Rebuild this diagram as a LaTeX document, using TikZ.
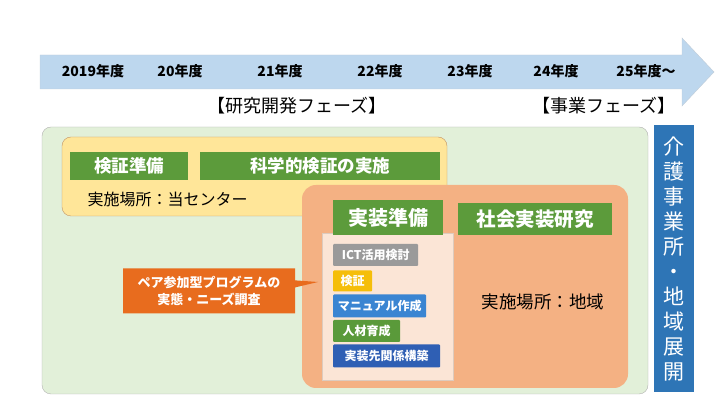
\documentclass[tikz,border=0pt]{standalone}
\usepackage{fontspec}
\setmainfont{Noto Sans CJK JP}
\usetikzlibrary{shapes.callouts}

\definecolor{arrowblue}{HTML}{BDD7EE}
\definecolor{bggreen}{HTML}{E2F0D9}
\definecolor{centeryellow}{HTML}{FFE699}
\definecolor{areaorange}{HTML}{F4B183}
\definecolor{panelpink}{HTML}{FBE5D6}
\definecolor{labelgreen}{HTML}{5C9B3B}
\definecolor{itemgray}{HTML}{9A9A9A}
\definecolor{itemyellow}{HTML}{F5BE0A}
\definecolor{itemblue}{HTML}{3A85D2}
\definecolor{itemgreen}{HTML}{5A9A3A}
\definecolor{itemnavy}{HTML}{2F5FB4}
\definecolor{sideblue}{HTML}{2E75B6}
\definecolor{calloutorange}{HTML}{E86C1E}

\tikzset{
  year/.style={font=\bfseries\fontsize{14}{16}\selectfont},
  phase/.style={font=\fontsize{18}{20}\selectfont},
  greenlabel/.style={fill=labelgreen, text=white, font=\bfseries\fontsize{17.5}{20}\selectfont,
    inner sep=0pt},
  item/.style={text=white, font=\bfseries\fontsize{12}{13}\selectfont, inner sep=0pt,
    rounded corners=1pt},
  place/.style={font=\fontsize{16}{18}\selectfont, anchor=west},
}

\begin{document}
\begin{tikzpicture}[x=1pt,y=-1pt]
			%%%%% START %%%%%
			\useasboundingbox (0,0) rectangle (716,403);
			
			% time line
			\draw[fill=arrowblue, draw=arrowblue!80!black!60] (40,55) -- (682,55) -- (682,38) -- (714,72)
				-- (682,106) -- (682,89) -- (40,89) -- cycle;
			\node[year] (y19) at (93,71) {2019年度};
			\node[year] (y20) at (180,71) {20年度};
			\node[year] (y21) at (280,71) {21年度};
			\node[year] (y22) at (380,71) {22年度};
			\node[year] (y23) at (470,71) {23年度};
			\node[year] (y24) at (556,71) {24年度};
			\node[year] (y25) at (646,71) {25年度〜};
			
			\node[phase] (research) at (297,106) {【研究開発フェーズ】};
			\node[phase] (business) at (604,106) {【事業フェーズ】};
			
			% whole area
			\draw[fill=bggreen, draw=black!30, rounded corners=9pt] (42,127) rectangle (648,394);
			
			% center
			\draw[fill=centeryellow, draw=orange!60!black!60, rounded corners=9pt] (62,137) rectangle (447,216);
			\node[greenlabel, minimum width=118pt, minimum height=28pt] (prep) at (129,166) {検証準備};
			\node[greenlabel, minimum width=240pt, minimum height=28pt] (verify) at (320,166) {科学的検証の実施};
			\node[place] (centerplace) at (84,199) {実施場所：当センター};
			
			% region
			\draw[fill=areaorange, draw=none, rounded corners=14pt] (302,185) rectangle (628,388);
			\draw[fill=panelpink, draw=areaorange!70!black!40] (322,233) rectangle (453,380);
			\node[greenlabel, minimum width=110pt, minimum height=35pt, font=\bfseries\fontsize{20}{22}\selectfont]
				(impl) at (388,218) {実装準備};
			\node[greenlabel, minimum width=154pt, minimum height=32pt, font=\bfseries\fontsize{19.5}{22}\selectfont]
				(social) at (535,219) {社会実装研究};
			\node[item, fill=itemgray, minimum width=85pt, minimum height=22pt, anchor=west] (ict) at (333,255) {ICT活用検討};
			\node[item, fill=itemyellow, minimum width=39pt, minimum height=21pt, anchor=west] (check) at (333,281) {検証};
			\node[item, fill=itemblue, minimum width=93pt, minimum height=23pt, anchor=west] (manual) at (333,306) {マニュアル作成};
			\node[item, fill=itemgreen, minimum width=67pt, minimum height=22pt, anchor=west] (staff) at (333,331) {人材育成};
			\node[item, fill=itemnavy, minimum width=107pt, minimum height=23pt, anchor=west] (partner) at (333,356) {実装先関係構築};
			\node[place, anchor=center, font=\fontsize{17.5}{20}\selectfont] (regionplace) at (543,302) {実施場所：地域};
			
			% survey
			\node[rectangle callout, fill=calloutorange, text=white, align=center,
				font=\bfseries\fontsize{13}{17}\selectfont, minimum width=172pt, minimum height=45pt,
				inner sep=0pt, callout absolute pointer={(318,282)}] (survey) at (209,291)
				{ペア参加型プログラムの\\実態・ニーズ調査};
			
			% side
			\node[fill=sideblue, text=white, minimum width=40pt, minimum height=267pt, inner sep=0pt,
				align=center, font=\fontsize{21}{25}\selectfont] (deploy) at (674,259)
				{介\\護\\事\\業\\所\\・\\地\\域\\展\\開};
			%%%%% END %%%%%
\end{tikzpicture}
\end{document}
